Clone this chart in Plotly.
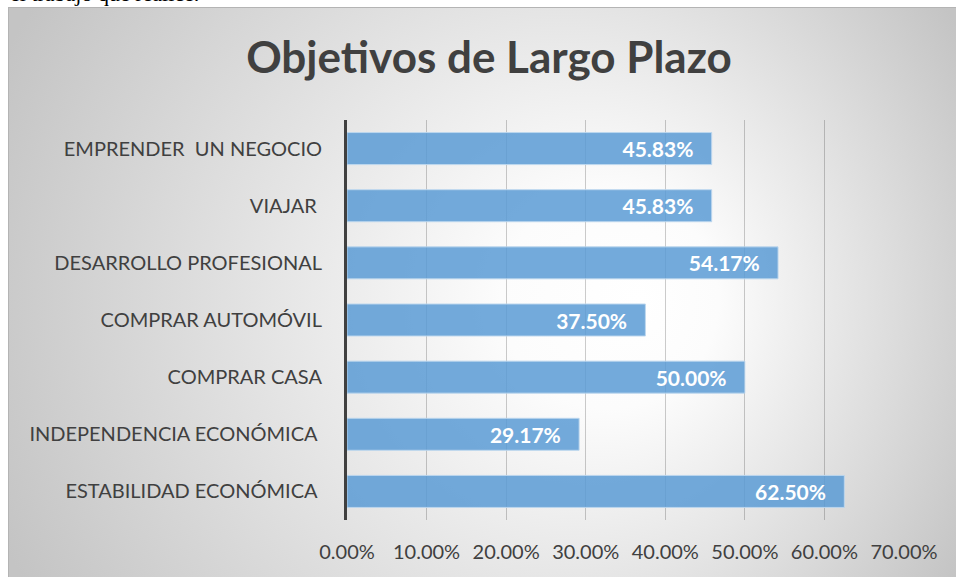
import base64
import plotly.graph_objects as go

# Long-term goals survey (share of respondents), listed top to bottom
categories = [
    "EMPRENDER\u00a0\u00a0UN NEGOCIO",
    "VIAJAR\u00a0",
    "DESARROLLO PROFESIONAL",
    "COMPRAR AUTOMÓVIL",
    "COMPRAR CASA",
    "INDEPENDENCIA ECONÓMICA\u00a0",
    "ESTABILIDAD ECONÓMICA\u00a0",
]
values = [0.4583, 0.4583, 0.5417, 0.3750, 0.5000, 0.2917, 0.6250]
tick_values = [0.0, 0.1, 0.2, 0.3, 0.4, 0.5, 0.6, 0.7]

TEXT = "#404040"
FONT = "Lato"

# Page geometry (pixels)
W, H = 956, 577
PL, PR, PT, PB = 347, 904, 120, 520      # plot area edges
BOX_X0, BOX_Y0 = 8, 7                    # chart frame top-left corner


def px_to_x(px):
    return (px - PL) / (PR - PL)


def px_to_y(py):
    return 1 - (py - PT) / (PB - PT)


# Radial grey-to-white fill of the chart frame
bw, bh = W - BOX_X0, H - BOX_Y0
svg = (
    f'<svg xmlns="http://www.w3.org/2000/svg" width="{bw}" height="{bh}" '
    f'viewBox="0 0 {bw} {bh}" preserveAspectRatio="none">'
    '<defs><radialGradient id="g" gradientUnits="userSpaceOnUse" '
    'cx="481" cy="293" r="543" fx="632" fy="293">'
    '<stop offset="0" stop-color="#ffffff"/>'
    '<stop offset="0.2" stop-color="#fcfcfc"/>'
    '<stop offset="1" stop-color="#c4c4c4"/>'
    '</radialGradient></defs>'
    f'<rect width="{bw}" height="{bh}" fill="url(#g)"/></svg>'
)
bg_src = "data:image/svg+xml;base64," + base64.b64encode(svg.encode()).decode()

fig = go.Figure(
    go.Bar(
        x=values,
        y=categories,
        orientation="h",
        marker=dict(
            color="rgba(91,155,213,0.85)",
            line=dict(color="rgba(189,215,238,0.95)", width=1),
        ),
        text=[f"{v:.2%}" + "\u00a0" * 3 for v in values],
        textposition="inside",
        insidetextanchor="end",
        textfont=dict(family=FONT, size=21, color="white", weight="bold"),
        hoverinfo="skip",
    )
)

fig.update_layout(
    width=W,
    height=H,
    margin=dict(l=PL, r=W - PR, t=PT, b=H - PB, pad=0),
    paper_bgcolor="white",
    plot_bgcolor="rgba(0,0,0,0)",
    bargap=0.44,
    showlegend=False,
    title=dict(
        text="<b>Objetivos de Largo Plazo</b>",
        x=489 / W,
        xanchor="center",
        y=1 - 58 / H,
        yanchor="middle",
        font=dict(family=FONT, size=44, color=TEXT),
    ),
    xaxis=dict(
        range=[0, 0.7],
        tickvals=tick_values,
        tickformat=".2%",
        showgrid=True,
        gridcolor="rgba(0,0,0,0.2)",
        gridwidth=1,
        zeroline=False,
        showline=False,
        ticks="",
        ticklabelstandoff=18,
        tickfont=dict(family=FONT, size=20, color=TEXT),
        fixedrange=True,
    ),
    yaxis=dict(
        autorange="reversed",
        showgrid=False,
        zeroline=False,
        showline=True,
        linecolor=TEXT,
        linewidth=3,
        ticks="",
        ticklabelstandoff=18,
        tickfont=dict(family=FONT, size=20, color=TEXT),
        fixedrange=True,
    ),
    images=[
        dict(
            source=bg_src,
            xref="paper",
            yref="paper",
            x=px_to_x(BOX_X0),
            y=px_to_y(BOX_Y0),
            sizex=px_to_x(W) - px_to_x(BOX_X0),
            sizey=px_to_y(BOX_Y0) - px_to_y(H),
            sizing="stretch",
            xanchor="left",
            yanchor="top",
            layer="below",
        )
    ],
    shapes=[
        dict(
            type="line",
            xref="paper",
            yref="paper",
            x0=px_to_x(BOX_X0),
            x1=px_to_x(W),
            y0=px_to_y(BOX_Y0 + 0.5),
            y1=px_to_y(BOX_Y0 + 0.5),
            line=dict(color="#b4b4b4", width=1),
            layer="above",
        ),
        dict(
            type="line",
            xref="paper",
            yref="paper",
            x0=px_to_x(BOX_X0 + 0.5),
            x1=px_to_x(BOX_X0 + 0.5),
            y0=px_to_y(BOX_Y0),
            y1=px_to_y(H),
            line=dict(color="#b4b4b4", width=1),
            layer="above",
        ),
    ],
    annotations=[
        # tail of the document sentence running above the chart frame
        dict(
            text="el trabajo que realice.",
            xref="paper",
            yref="paper",
            x=px_to_x(BOX_X0),
            y=px_to_y(8),
            xanchor="left",
            yanchor="bottom",
            showarrow=False,
            font=dict(family="Liberation Serif", size=22, color="black"),
        )
    ],
)

fig.write_html("out.html")
